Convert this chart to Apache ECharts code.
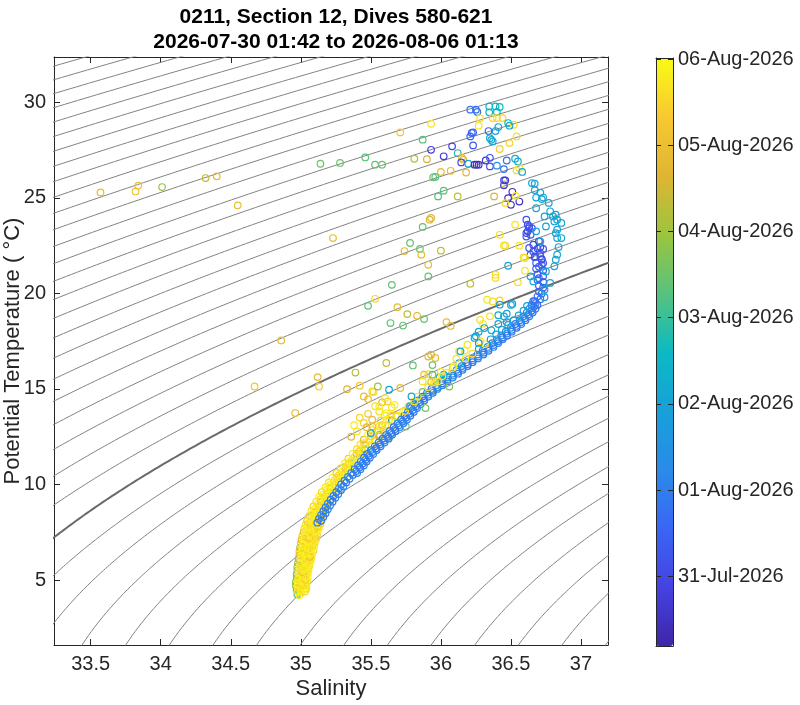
<!DOCTYPE html>
<html>
<head>
<meta charset="utf-8">
<script src="https://cdn.jsdelivr.net/npm/echarts@6.0.0/dist/echarts.min.js"></script>
<style>
  html, body { margin: 0; padding: 0; background: #fff; }
  #chart { width: 800px; height: 705px; }
</style>
</head>
<body>
<div id="chart"></div>
<script>
// --- data: [salinity, potential temperature, day since 2026-07-30 00:00] ---
const titleLines = ['0211, Section 12, Dives 580-621', '2026-07-30 01:42 to 2026-08-06 01:13'];
const salTicks = [33.5, 34, 34.5, 35, 35.5, 36, 36.5, 37];
const tempTicks = [5, 10, 15, 20, 25, 30];
const dayTicks = [1, 2, 3, 4, 5, 6, 7];
const dayLabels = ['31-Jul-2026', '01-Aug-2026', '02-Aug-2026', '03-Aug-2026', '04-Aug-2026', '05-Aug-2026', '06-Aug-2026'];
const isoLevels = [19.5, 19.75, 20, 20.25, 20.5, 20.75, 21, 21.25, 21.5, 21.75, 22, 22.25, 22.5, 22.75,
  23, 23.25, 23.5, 23.75, 24, 24.25, 24.5, 24.75, 25, 25.25, 25.5, 25.75, 26, 26.25, 26.5, 26.75,
  27, 27.25, 27.5, 27.75, 28, 28.25, 28.5, 28.75, 29, 29.25, 29.5, 29.75, 30];
const boldLevel = 26;

// deep part of the profile, mostly the last days
const yellowBand = [
  [34.975,4.25,4.2],[34.99,4.2,6.8],[35.005,4.35,6.6],
  [34.97,4.5,4.8],[34.995,4.5,6.7],[35.02,4.5,6.9],[35.04,4.55,6.5],
  [34.965,4.7,5.0],[34.99,4.7,6.8],[35.015,4.7,6.4],[35.04,4.75,6.7],
  [34.965,4.9,4.6],[34.99,4.9,6.9],[35.02,4.9,6.6],[35.045,4.95,6.8],
  [34.97,5.1,5.2],[34.995,5.1,6.7],[35.02,5.1,6.0],[35.05,5.15,6.9],
  [34.97,5.3,4.7],[35.0,5.3,6.8],[35.025,5.3,6.5],[35.05,5.35,6.7],
  [34.975,5.5,5.4],[35.0,5.5,6.9],[35.03,5.5,6.6],[35.055,5.55,6.8],
  [34.975,5.7,4.9],[35.005,5.7,6.2],[35.035,5.7,6.8],[35.06,5.75,6.6],
  [34.98,5.9,5.3],[35.01,5.9,6.8],[35.04,5.9,6.5],[35.07,5.95,6.9],
  [34.985,6.1,5.1],[35.015,6.1,6.7],[35.045,6.1,5.9],[35.075,6.15,6.8],
  [34.99,6.3,5.6],[35.02,6.3,6.9],[35.05,6.3,6.6],[35.08,6.35,6.7],
  [34.99,6.5,6.1],[35.02,6.5,6.6],[35.055,6.5,6.8],[35.09,6.55,6.5],
  [34.995,6.7,5.0],[35.03,6.7,6.8],[35.06,6.7,6.0],[35.095,6.75,6.9],
  [35.0,6.9,6.3],[35.035,6.9,6.7],[35.07,6.9,6.8],[35.1,6.95,6.6],
  [35.005,7.1,5.8],[35.04,7.1,6.9],[35.075,7.1,6.5],[35.11,7.15,6.7],
  [35.01,7.3,6.4],[35.045,7.3,6.6],[35.08,7.3,6.8],[35.115,7.35,6.2],
  [35.02,7.5,6.0],[35.055,7.5,6.8],[35.09,7.5,6.7],[35.12,7.55,6.9],
  [35.025,7.7,6.5],[35.06,7.7,6.9],[35.095,7.7,5.9],[35.13,7.75,6.6],
  [35.035,7.9,6.7],[35.07,7.9,6.4],[35.105,7.9,6.8],[35.14,7.95,6.5],
  [35.045,8.1,6.2],[35.08,8.1,6.8],[35.115,8.1,6.6],[35.15,8.15,6.9],
  [35.06,8.35,6.6],[35.095,8.35,6.9],[35.13,8.35,6.3],[35.16,8.4,6.7],
  [35.075,8.6,6.8],[35.11,8.6,6.5],[35.145,8.6,6.9],[35.175,8.65,6.1],
  [35.09,8.85,6.4],[35.125,8.85,6.8],[35.16,8.85,6.6],[35.19,8.9,6.9],
  [35.11,9.1,6.7],[35.145,9.1,6.0],[35.18,9.1,6.8],[35.21,9.15,6.5],
  [35.13,9.35,6.9],[35.165,9.35,6.6],[35.2,9.35,6.7],[35.23,9.4,6.3],
  [35.15,9.6,6.5],[35.185,9.6,6.9],[35.22,9.6,6.1],[35.25,9.65,6.8],
  [35.175,9.85,6.8],[35.21,9.85,6.4],[35.245,9.85,6.9],
  [35.2,10.1,6.6],[35.235,10.1,6.9],[35.27,10.1,5.9],
  [35.225,10.35,6.9],[35.26,10.35,6.5],[35.295,10.35,6.7],
  [35.255,10.6,6.2],[35.29,10.6,6.8],[35.32,10.6,6.6],
  [35.285,10.85,6.7],[35.32,10.85,6.0],[35.35,10.85,6.9],
  [35.315,11.1,6.8],[35.345,11.1,6.5],[35.375,11.1,4.6],
  [35.34,11.35,6.4],[35.37,11.35,6.9],[35.4,11.35,6.7],
  [35.37,11.6,6.9],[35.4,11.6,5.9],[35.43,11.6,6.6],
  [35.4,11.85,6.6],[35.43,11.85,6.8],[35.46,11.85,3.2],
  [35.425,12.1,6.7],[35.46,12.1,6.3],[35.495,12.1,6.9],
  [35.45,12.35,5.8],[35.49,12.35,6.8],[35.53,12.35,6.6],
  [35.48,12.6,6.9],[35.52,12.6,6.5],[35.56,12.6,4.7],
  [35.51,12.85,6.6],[35.55,12.85,6.9],[35.59,12.85,5.9],
  [35.54,13.1,6.8],[35.58,13.1,6.2],[35.62,13.1,6.7],
  [35.57,13.35,6.5],[35.61,13.35,6.9],[35.65,13.35,3.0],
  [35.6,13.6,6.7],[35.645,13.6,6.4],[35.69,13.6,6.8]
];

// extra overplotted casts in the deep band
const yellowFill = [
  [34.98,4.4,6.7],[35.005,4.4,6.9],[35.03,4.4,6.5],
  [34.98,4.6,6.6],[35.005,4.6,6.8],[35.03,4.6,6.9],
  [34.978,4.8,6.9],[35.005,4.8,6.5],[35.032,4.8,6.7],
  [34.98,5.0,6.8],[35.008,5.0,6.9],[35.035,5.0,6.4],
  [34.985,5.2,6.6],[35.012,5.2,6.8],[35.038,5.2,6.9],
  [34.987,5.4,6.9],[35.015,5.4,6.1],[35.04,5.4,6.7],
  [34.99,5.6,6.7],[35.018,5.6,6.9],[35.045,5.6,6.8],
  [34.995,5.8,6.8],[35.025,5.8,6.6],[35.055,5.8,6.9],
  [35.0,6.0,6.5],[35.03,6.0,6.9],[35.06,6.0,6.7],
  [35.002,6.2,6.9],[35.035,6.2,6.7],[35.065,6.2,6.0],
  [35.005,6.4,6.7],[35.038,6.4,6.9],[35.07,6.4,6.8],
  [35.01,6.6,6.8],[35.042,6.6,6.5],[35.075,6.6,6.9],
  [35.015,6.8,6.9],[35.05,6.8,6.7],[35.085,6.8,6.6],
  [35.02,7.0,6.6],[35.055,7.0,6.9],[35.09,7.0,6.8],
  [35.025,7.2,6.9],[35.06,7.2,6.2],[35.095,7.2,6.7],
  [35.03,7.4,6.7],[35.068,7.4,6.9],[35.1,7.4,6.5],
  [35.04,7.6,6.8],[35.075,7.6,6.6],[35.11,7.6,6.9],
  [35.05,7.8,6.9],[35.085,7.8,6.8],[35.12,7.8,6.4],
  [35.06,8.0,6.6],[35.095,8.0,6.9],[35.13,8.0,6.7],
  [35.07,8.225,6.9],[35.105,8.225,6.7],[35.14,8.225,6.8],
  [35.085,8.475,6.7],[35.12,8.475,6.9],[35.155,8.475,6.0],
  [35.1,8.725,6.9],[35.135,8.725,6.6],[35.17,8.725,6.8],
  [35.12,8.975,6.8],[35.155,8.975,6.9],[35.19,8.975,6.5],
  [35.14,9.225,6.6],[35.175,9.225,6.8],[35.21,9.225,6.9],
  [35.16,9.475,6.9],[35.195,9.475,6.7],[35.23,9.475,6.8],
  [35.185,9.725,6.7],[35.22,9.725,6.9],
  [35.21,9.975,6.9],[35.245,9.975,6.6],
  [35.24,10.225,6.8],[35.275,10.225,6.9],
  [35.27,10.475,6.6],[35.305,10.475,6.8],
  [35.3,10.725,6.9],[35.335,10.725,6.5],
  [35.33,10.975,6.7],[35.36,10.975,6.9],
  [35.355,11.225,6.9],[35.385,11.225,6.6],
  [35.385,11.475,6.8],[35.415,11.475,6.9],
  [35.415,11.725,6.5],[35.445,11.725,6.8]
];

// loose cluster left of the thermocline
const wedgePts = [
  [35.40,12.78,6.7],[35.45,13.22,6.5],[35.51,13.39,5.9],[35.56,13.04,6.8],[35.60,12.69,6.0],
  [35.63,13.39,6.7],[35.56,13.82,6.6],[35.61,13.73,6.9],[35.50,12.52,6.4],[35.51,12.00,6.8],
  [35.45,12.17,6.6],[35.51,13.04,6.1],[35.56,12.52,5.8],[35.65,13.04,6.7],[35.68,13.56,6.5],
  [35.73,13.82,6.8],[35.77,14.09,6.6],[35.82,14.35,6.9],[35.63,12.43,4.5],[35.75,13.04,4.4],
  [35.50,12.69,3.0],[35.47,13.0,5.9],[35.42,13.5,6.5],[35.38,13.1,6.8],[35.36,12.5,5.8],
  [35.48,13.7,6.3],[35.53,14.1,6.7],[35.58,14.3,5.9]
];

// main thermocline track, early dives (staggered rows)
const blueRowA = [
  [36.659,19.6,1.6],[36.647,19.4,1.9],[36.633,19.2,2.2],[36.613,19.0,1.8],[36.589,18.8,2.3],
  [36.562,18.6,2.0],[36.532,18.4,1.7],[36.499,18.2,2.4],[36.463,18.0,2.1],[36.431,17.8,1.9],
  [36.399,17.6,2.2],[36.367,17.4,1.8],[36.334,17.2,2.5],[36.298,17.0,2.0],[36.262,16.8,1.7],
  [36.223,16.6,2.3],[36.185,16.4,2.1],[36.149,16.2,1.9],[36.113,16.0,2.4],[36.081,15.8,2.0],
  [36.043,15.6,1.8],[36.005,15.4,2.2],[35.969,15.2,2.6],[35.933,15.0,1.9],[35.901,14.8,2.1],
  [35.869,14.6,1.7],[35.839,14.4,2.3],[35.812,14.2,2.0],[35.788,14.0,1.8],[35.764,13.8,2.4],
  [35.740,13.6,2.1],[35.716,13.4,1.9],[35.691,13.2,2.2],[35.663,13.0,1.7],[35.635,12.8,2.0],
  [35.610,12.6,2.5],[35.584,12.4,1.8],[35.556,12.2,2.1],[35.528,12.0,1.9],[35.500,11.8,2.3],
  [35.475,11.6,2.0],[35.451,11.4,1.7],[35.428,11.2,2.2],[35.408,11.0,1.9],[35.384,10.8,2.1],
  [35.360,10.6,1.8],[35.336,10.4,2.4],[35.312,10.2,2.0],[35.288,10.0,1.9],[35.272,9.8,2.2],
  [35.253,9.6,1.8],[35.233,9.4,2.1],[35.213,9.2,1.9],[35.193,9.0,2.3],[35.177,8.8,2.0],
  [35.161,8.6,1.8],[35.145,8.4,2.2],[35.129,8.2,2.0],[35.118,8.0,1.9]
];
const blueRowB = [
  [36.677,19.5,1.8],[36.665,19.3,2.1],[36.647,19.1,1.7],[36.625,18.9,2.3],[36.600,18.7,1.9],
  [36.572,18.5,2.2],[36.540,18.3,1.8],[36.505,18.1,2.0],[36.471,17.9,2.4],[36.439,17.7,1.7],
  [36.407,17.5,2.1],[36.375,17.3,1.9],[36.340,17.1,2.2],[36.304,16.9,1.8],[36.267,16.7,2.0],
  [36.227,16.5,2.5],[36.191,16.3,1.7],[36.155,16.1,2.1],[36.121,15.9,1.9],[36.087,15.7,2.3],
  [36.047,15.5,2.0],[36.011,15.3,1.8],[35.975,15.1,2.2],[35.941,14.9,1.9],[35.909,14.7,2.4],
  [35.877,14.5,2.0],[35.849,14.3,1.8],[35.824,14.1,2.1],[35.800,13.9,1.9],[35.776,13.7,2.2],
  [35.752,13.5,1.7],[35.728,13.3,2.0],[35.701,13.1,2.3],[35.673,12.9,1.9],[35.646,12.7,2.1],
  [35.622,12.5,1.8],[35.594,12.3,2.2],[35.566,12.1,2.0],[35.538,11.9,1.7],[35.511,11.7,2.1],
  [35.487,11.5,1.9],[35.463,11.3,2.3],[35.442,11.1,2.0],[35.420,10.9,1.8],[35.396,10.7,2.2],
  [35.372,10.5,1.9],[35.348,10.3,2.1],[35.324,10.1,1.8],[35.304,9.9,2.0],[35.287,9.7,2.3],
  [35.267,9.5,1.9],[35.247,9.3,2.1],[35.227,9.1,1.8],[35.209,8.9,2.0],[35.193,8.7,2.2],
  [35.177,8.5,1.9],[35.161,8.3,2.1],[35.145,8.1,1.8]
];
const blueRowC = [
  [36.689,19.4,1.7],[36.675,19.2,2.0],[36.655,19.0,1.8],[36.631,18.8,2.1],[36.604,18.6,1.9],
  [36.574,18.4,2.2],[36.541,18.2,1.8],[36.505,18.0,2.0],[36.473,17.8,1.7],[36.441,17.6,2.1],
  [36.409,17.4,1.9],[36.376,17.2,2.3],[36.340,17.0,1.8],[36.304,16.8,2.0],[36.265,16.6,2.2],
  [36.227,16.4,1.9],[36.191,16.2,1.7],[36.155,16.0,2.1],[36.123,15.8,1.9],[36.085,15.6,2.2],
  [36.047,15.4,1.8],[36.011,15.2,2.0],[35.975,15.0,2.3],[35.943,14.8,1.9],[35.911,14.6,2.1],
  [35.881,14.4,1.8],[35.854,14.2,2.0],[35.830,14.0,2.2],[35.806,13.8,1.9],[35.782,13.6,1.7],
  [35.758,13.4,2.1],[35.733,13.2,1.9],[35.705,13.0,2.2],[35.677,12.8,1.8],[35.652,12.6,2.0],
  [35.626,12.4,1.9],[35.598,12.2,2.1],[35.570,12.0,1.8],[35.542,11.8,2.0],[35.517,11.6,2.2],
  [35.493,11.4,1.9],[35.470,11.2,1.7],[35.450,11.0,2.1],[35.426,10.8,1.9],[35.402,10.6,2.0]
];

// dense column at the salinity maximum
const blueColumn = [
  [36.66,22.2,1.3],[36.71,22.1,1.4],[36.67,21.9,1.3],[36.72,21.8,1.4],[36.68,21.6,1.3],
  [36.72,21.5,1.5],[36.68,21.3,1.4],[36.73,21.2,1.4],[36.69,21.0,1.3],[36.73,20.9,1.5],
  [36.69,20.7,1.4],[36.73,20.6,1.5],[36.70,20.4,1.5],[36.73,20.3,1.6],[36.70,20.1,1.6],
  [36.72,20.0,1.7],[36.69,19.85,1.7],[36.71,19.7,1.8],[36.67,19.6,1.8],[36.70,21.4,1.6],
  [36.70,20.8,1.6],[36.71,21.95,1.5],[36.69,22.35,1.2],[36.74,20.2,2.6],[36.74,19.8,2.5]
];

const purpleCluster = [
  [36.61,23.86,1.2],[36.62,23.60,1.1],[36.62,23.25,0.9],[36.63,23.42,1.0],[36.64,23.07,1.2],
  [36.61,22.98,1.3],[36.63,22.38,1.2],[36.66,22.55,1.0],[36.70,22.73,0.8],[36.71,22.43,0.9],
  [36.73,22.33,1.1],[36.64,22.03,1.3],[36.67,21.94,1.2],[36.72,21.77,1.0],[36.73,21.59,1.2],
  [36.63,23.51,1.2],[36.65,23.42,1.3],[36.61,23.16,1.2]
];

// upper-left edge of the track
const edgeRow = [
  [35.745,13.85,6.6],[35.78,14.1,3.0],[35.81,14.35,6.7],[35.835,14.6,6.8],[35.87,14.85,4.5],
  [35.91,15.1,6.6],[35.95,15.35,6.9],[35.99,15.6,3.1],[36.04,15.85,6.7],[36.085,16.1,6.5],
  [36.13,16.35,3.2],[36.175,16.6,6.8],[36.225,16.85,6.6],[36.27,17.1,3.1],[36.315,17.35,6.7],
  [36.355,17.6,3.0],[36.395,17.85,3.1],[36.435,18.1,3.2],[36.48,18.35,2.9],[36.52,18.6,3.0],
  [36.555,18.85,3.1],[36.59,19.1,2.9],[36.615,19.35,3.0]
];

const midScatter = [
  [35.52,14.84,6.6],[35.60,14.52,6.7],[35.62,14.35,6.5],[35.56,14.08,6.8],[35.65,14.03,6.6],[35.67,14.17,6.9],
  [35.79,14.61,3.1],[35.89,14.00,4.5],[35.71,15.05,5.9],[35.63,14.96,3.0],
  [36.06,15.13,4.6],[36.02,15.75,3.2],[36.05,15.62,3.0],
  [35.61,16.36,5.3],[35.80,16.23,4.4],[35.91,16.70,5.8],[35.96,16.62,5.9],[35.93,16.79,5.7],[35.94,16.25,4.5],
  [35.88,15.75,5.9],[35.91,15.77,6.6],[35.94,15.75,4.4],[35.87,15.39,6.7],[35.93,15.36,5.9],[35.96,15.34,6.5],
  [35.69,19.28,5.9],[35.76,18.92,5.3],[35.83,18.83,5.8],[35.88,18.66,4.4],[35.64,18.45,4.4],[35.73,18.32,4.4],
  [36.04,18.50,5.9],[36.07,18.30,5.9],
  [36.33,19.67,6.7],[36.37,19.58,6.6],[36.42,19.63,6.5],[36.42,19.41,3.0],[36.45,18.80,3.1],[36.51,19.45,3.0],
  [36.35,18.80,6.7],[36.28,18.62,6.6],[36.30,18.41,6.8],
  [36.31,18.19,3.1],[36.36,18.07,3.2],[36.41,18.40,3.0],[36.47,18.50,2.9],
  [36.25,17.76,3.1],[36.28,17.50,6.6],[36.27,17.41,3.0],
  [36.19,17.32,6.7],[36.17,17.02,6.8],[36.13,16.97,6.6],[36.11,16.59,6.7],[36.09,16.18,6.9],[36.14,16.97,3.2],
  [36.24,17.67,3.0],[36.27,18.00,3.1],[36.41,18.86,3.2],[36.47,18.94,3.0],[36.50,19.40,3.1],
  [36.00,15.9,6.6],[36.01,15.66,6.8],[35.98,15.4,6.7]
];

// mixed layer and the turn at the salinity maximum
const upperLoop = [
  [36.21,29.62,1.8],[36.25,29.62,1.8],[36.26,29.50,1.7],
  [36.345,29.79,3.5],[36.39,29.79,3.5],[36.42,29.76,3.6],[36.345,29.48,3.4],[36.40,29.50,3.5],
  [36.37,29.18,6.5],[36.40,29.18,6.6],[36.44,29.18,6.5],[36.28,29.18,6.7],[36.27,28.78,6.7],[35.93,28.88,6.7],[35.71,28.43,6.3],
  [36.48,28.92,3.3],[36.52,28.83,6.6],[36.49,28.78,3.2],[36.41,28.71,3.0],[36.39,28.50,2.9],
  [36.34,28.50,1.6],[36.22,28.40,1.5],[36.21,28.22,1.5],[36.23,28.43,1.6],
  [36.35,28.13,3.2],[36.37,27.96,3.1],[36.36,28.04,3.2],
  [36.54,28.22,6.6],[36.49,27.87,6.5],[36.42,27.56,6.4],
  [36.23,27.75,1.3],[36.08,27.70,0.9],[35.93,27.52,0.8],
  [35.87,28.05,4.3],[35.81,27.05,5.2],[35.90,27.03,5.6],
  [36.02,27.18,0.7],[36.12,27.35,3.8],[36.15,27.09,5.8],[36.16,27.00,5.9],
  [36.145,26.86,1.0],[36.195,26.79,3.0],[36.24,26.74,0.5],[36.27,26.74,0.5],[36.255,26.74,0.45],[36.32,26.96,0.6],[36.35,27.10,1.2],
  [36.35,26.65,1.1],[36.40,26.69,2.5],[36.47,26.96,1.8],[36.53,27.05,3.3],[36.55,26.91,3.2],[36.45,26.51,1.7],
  [36.54,26.44,6.6],[36.56,26.55,6.7],[36.58,26.36,3.0],
  [36.00,26.36,5.9],[36.07,26.42,5.9],[36.18,26.33,5.8],
  [35.945,26.08,4.4],[35.96,26.10,4.3],[35.98,25.08,4.2],[36.02,25.38,4.3],[36.12,25.08,5.3],[36.38,25.08,5.6],
  [36.45,25.92,1.3],[36.455,25.71,6.6],[36.46,25.92,0.6],[36.45,25.66,0.7],
  [36.51,25.32,0.5],[36.48,24.99,0.5],[36.50,24.64,0.6],[36.56,24.81,0.5],
  [36.535,25.11,6.7],[36.46,24.73,6.6],
  [36.65,25.78,3.0],[36.67,25.75,3.1],[36.71,25.28,3.0],[36.73,25.02,3.1],[36.68,25.02,3.0],
  [36.67,25.41,3.0],[36.72,24.94,3.1],[36.68,24.46,3.1],
  [36.77,24.74,3.0],[36.78,24.30,3.1],[36.82,24.12,3.1],[36.83,23.86,3.0],[36.86,23.69,3.1],
  [36.83,23.34,3.0],[36.86,22.90,3.1],[36.84,22.43,3.0],[36.83,22.03,3.1],[36.82,21.77,3.0],[36.81,21.42,3.1],[36.78,20.55,3.0],
  [36.75,23.51,2.9],[36.68,23.25,3.0],[36.71,22.73,2.9],[36.75,21.15,3.0],[36.64,20.89,3.0],
  [36.74,24.03,3.0],[36.80,24.03,3.1],[36.81,23.77,3.0],[36.82,23.16,3.0],[36.83,22.90,3.0],
  [36.53,23.60,6.7],[36.42,23.07,6.6],[36.45,22.51,6.7],[36.46,22.50,6.6],[36.56,22.50,6.7],[36.60,21.86,6.6],[36.60,21.19,6.7],[36.59,21.89,6.6],
  [36.48,21.45,3.1],[36.66,20.63,3.0],
  [36.39,20.98,6.7],[36.39,20.81,6.6],[36.55,20.58,6.6],[36.21,20.51,5.3],
  [35.78,22.64,4.4],[35.85,22.33,4.4],[35.74,22.22,5.8],[35.86,22.03,5.9],[36.00,22.24,5.3],
  [35.93,23.95,5.7],[35.92,23.86,5.6],[35.87,23.48,4.4],[35.91,21.50,5.9],[35.91,20.89,4.4],[35.65,20.45,4.4]
];

// isolated low-salinity points
const leftScatter = [
  [33.57,25.29,5.9],[33.82,25.34,6.2],[33.84,25.64,6.1],[34.01,25.57,5.0],[34.32,26.04,5.4],
  [34.40,26.13,5.8],[34.55,24.61,6.0],[35.14,26.79,4.5],[35.28,26.83,4.5],[35.46,27.12,4.3],
  [35.53,26.74,4.4],[35.58,26.74,4.4],[35.23,22.90,5.9],[35.53,19.72,6.6],[35.48,19.35,4.4],
  [34.86,17.54,5.9],[35.12,15.62,5.9],[35.13,15.13,6.4],[34.67,15.13,6.3],[34.96,13.74,5.9],
  [35.39,15.86,5.2],[35.33,14.99,5.7],[35.42,15.17,6.3],[35.45,14.61,5.9],[35.48,14.47,5.9],
  [35.51,14.87,6.5],[35.55,15.13,5.0]
];

// parula colormap, evenly spaced stops
const parula = ['#3E26A8', '#4542E2', '#3A66F4', '#2A8BEA', '#17A0DA', '#0CBAC2',
  '#58C27E', '#9CC43E', '#E0B532', '#F8C832', '#F9FB15'];

const FONT = "'Liberation Sans', Arial, Helvetica, sans-serif";
const INK = '#262626';

// --- isopycnals, EOS-80 at p = 0 ---
function sigma0(S, T) {
    const rw = 999.842594 + 6.793952e-2 * T - 9.095290e-3 * T * T + 1.001685e-4 * T ** 3
        - 1.120083e-6 * T ** 4 + 6.536332e-9 * T ** 5;
    const a = 0.824493 - 4.0899e-3 * T + 7.6438e-5 * T * T - 8.2467e-7 * T ** 3 + 5.3875e-9 * T ** 4;
    const b = -5.72466e-3 + 1.0227e-4 * T - 1.6546e-6 * T * T;
    return rw + a * S + b * Math.pow(S, 1.5) + 4.8314e-4 * S * S - 1000;
}
function salinityOn(level, T) {
    let S = 35;
    for (let i = 0; i < 12; i++) {
        const f = sigma0(S, T) - level;
        const d = (sigma0(S + 0.001, T) - sigma0(S - 0.001, T)) / 0.002;
        S -= f / d;
    }
    return S;
}
function isoLine(level) {
    const pts = [];
    for (let k = 0; k <= 340; k++) {
        const T = 0.5 + k * 0.1;
        const S = salinityOn(level, T);
        if (S > 32 && S < 38.5) pts.push([S, T]);
    }
    return pts;
}

const contourSeries = isoLevels.map(lv => ({
    type: 'line',
    data: isoLine(lv),
    showSymbol: false,
    silent: true,
    clip: true,
    animation: false,
    z: 1,
    lineStyle: { color: lv === boldLevel ? '#6a6a6a' : '#828282', width: lv === boldLevel ? 2 : 1 }
}));

const allPoints = [].concat(yellowBand, yellowFill, wedgePts, blueRowA, blueRowB, blueRowC, blueColumn,
    purpleCluster, edgeRow, midScatter, upperLoop, leftScatter);

const scatterSeries = {
    type: 'custom',
    data: allPoints,
    dimensions: ['sal', 'temp', 'day'],
    encode: { x: 0, y: 1 },
    clip: true,
    silent: true,
    animation: false,
    z: 3,
    renderItem: function (params, api) {
        const p = api.coord([api.value(0), api.value(1)]);
        return {
            type: 'circle',
            shape: { cx: p[0], cy: p[1], r: 3.3 },
            style: { fill: 'none', stroke: api.visual('color'), lineWidth: 1.2 }
        };
    }
};

const chart = echarts.init(document.getElementById('chart'));

const tickIn = (vals, len) => ({ show: true, inside: true, length: len, customValues: vals, lineStyle: { color: INK, width: 1 } });
const axisLine = { show: true, onZero: false, lineStyle: { color: INK, width: 1 } };

chart.setOption({
    backgroundColor: '#fff',
    animation: false,
    textStyle: { fontFamily: FONT },
    title: {
        text: titleLines.join('\n'),
        left: 331,
        top: 0,
        textAlign: 'center',
        textStyle: { fontFamily: FONT, fontSize: 21, fontWeight: 'bold', color: '#000', lineHeight: 25 }
    },
    grid: [
        { left: 54, top: 57, width: 554, height: 588, containLabel: false, outerBoundsMode: 'none' },
        { left: 656, top: 58, width: 17, height: 588, containLabel: false, outerBoundsMode: 'none' }
    ],
    xAxis: [
        {
            type: 'value', gridIndex: 0, min: 33.238, max: 37.193, position: 'bottom',
            axisLine: axisLine, axisTick: tickIn(salTicks, 6), splitLine: { show: false },
            axisLabel: { customValues: salTicks, color: INK, fontSize: 20, fontFamily: FONT, margin: 9 },
            name: 'Salinity', nameLocation: 'middle', nameGap: 33, nameMoveOverlap: false,
            nameTextStyle: { color: INK, fontSize: 22, fontFamily: FONT }
        },
        {
            type: 'value', gridIndex: 0, min: 33.238, max: 37.193, position: 'top',
            axisLine: axisLine, axisTick: tickIn(salTicks, 6), splitLine: { show: false },
            axisLabel: { show: false }
        },
        {
            type: 'value', gridIndex: 1, min: 0, max: 1, position: 'bottom', z: 10,
            axisLine: axisLine, axisTick: { show: false }, axisLabel: { show: false }, splitLine: { show: false }
        },
        {
            type: 'value', gridIndex: 1, min: 0, max: 1, position: 'top', z: 10,
            axisLine: axisLine, axisTick: { show: false }, axisLabel: { show: false }, splitLine: { show: false }
        }
    ],
    yAxis: [
        {
            type: 'value', gridIndex: 0, min: 1.598, max: 32.377, position: 'left',
            axisLine: axisLine, axisTick: tickIn(tempTicks, 6), splitLine: { show: false },
            axisLabel: { customValues: tempTicks, color: INK, fontSize: 20, fontFamily: FONT, margin: 8 },
            name: 'Potential Temperature ( \u00b0C)', nameLocation: 'middle', nameGap: 30, nameMoveOverlap: false,
            nameTextStyle: { color: INK, fontSize: 22, fontFamily: FONT }
        },
        {
            type: 'value', gridIndex: 0, min: 1.598, max: 32.377, position: 'right',
            axisLine: axisLine, axisTick: tickIn(tempTicks, 6), splitLine: { show: false },
            axisLabel: { show: false }
        },
        {
            type: 'value', gridIndex: 1, min: 0.19, max: 7.012, position: 'right', z: 10,
            axisLine: axisLine, axisTick: tickIn(dayTicks, 5), splitLine: { show: false },
            axisLabel: {
                customValues: dayTicks, color: INK, fontSize: 20, fontFamily: FONT, margin: 5,
                formatter: v => dayLabels[dayTicks.indexOf(Math.round(v))]
            }
        },
        {
            type: 'value', gridIndex: 1, min: 0.19, max: 7.012, position: 'left', z: 10,
            axisLine: axisLine, axisTick: tickIn(dayTicks, 5), splitLine: { show: false },
            axisLabel: { show: false }
        }
    ],
    visualMap: {
        type: 'continuous',
        min: 0.19,
        max: 7.012,
        dimension: 2,
        seriesIndex: contourSeries.length,
        orient: 'vertical',
        left: 656,
        top: 58,
        itemWidth: 17,
        itemHeight: 588,
        padding: 0,
        calculable: false,
        hoverLink: false,
        text: null,
        inRange: { color: parula }
    },
    series: contourSeries.concat([scatterSeries])
});
</script>
</body>
</html>
